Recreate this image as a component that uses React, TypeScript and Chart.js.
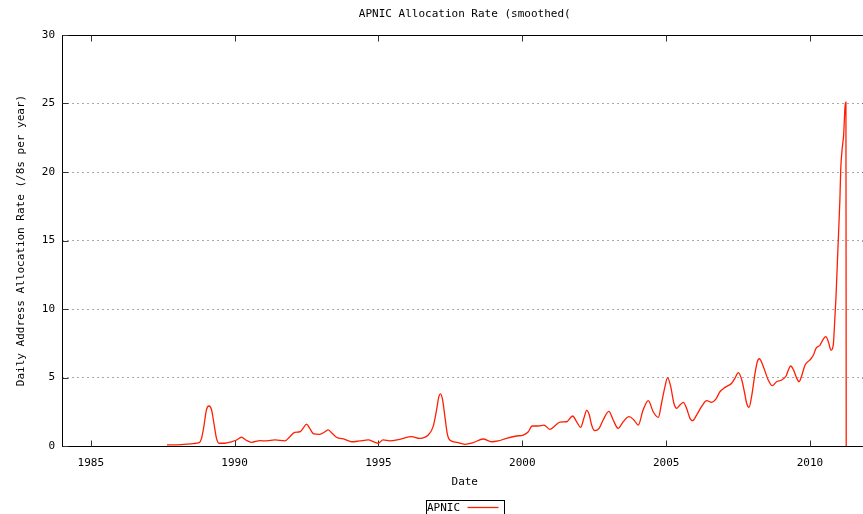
import { useEffect, useRef } from 'react';
import { Chart, registerables } from 'chart.js';

Chart.register(...registerables);

const titleText = 'APNIC Allocation Rate (smoothed(';
const xTitle = 'Date';
const yTitle = 'Daily Address Allocation Rate (/8s per year)';
const seriesLabel = 'APNIC';

const xTicks = [1985, 1990, 1995, 2000, 2005, 2010];
const yTicks = [0, 5, 10, 15, 20, 25, 30];

const dates = [
  1987.65, 1988.15, 1988.56, 1988.77, 1988.85, 1988.93, 1989.02, 1989.11, 1989.2, 1989.28,
  1989.37, 1989.46, 1989.66, 1989.89, 1990.07, 1990.24, 1990.39, 1990.59, 1990.88, 1991.11,
  1991.4, 1991.75, 1991.92, 1992.09, 1992.27, 1992.38, 1992.5, 1992.61, 1992.75, 1992.96,
  1993.14, 1993.25, 1993.37, 1993.54, 1993.83, 1994.07, 1994.35, 1994.64, 1994.88, 1994.99,
  1995.16, 1995.4, 1995.74, 1996.15, 1996.44, 1996.73, 1996.9, 1997.02, 1997.1, 1997.16,
  1997.23, 1997.31, 1997.39, 1997.48, 1997.72, 1998.0, 1998.29, 1998.64, 1998.93, 1999.16,
  1999.45, 1999.8, 2000.03, 2000.21, 2000.34, 2000.55, 2000.75, 2000.96, 2001.13, 2001.31,
  2001.54, 2001.75, 2001.89, 2002.03, 2002.14, 2002.24, 2002.33, 2002.41, 2002.52, 2002.67,
  2002.81, 2003.01, 2003.16, 2003.33, 2003.51, 2003.71, 2003.88, 2004.03, 2004.2, 2004.38,
  2004.55, 2004.73, 2004.84, 2004.96, 2005.05, 2005.16, 2005.27, 2005.37, 2005.48, 2005.6,
  2005.71, 2005.83, 2005.92, 2006.06, 2006.23, 2006.41, 2006.58, 2006.73, 2006.87, 2007.05,
  2007.28, 2007.39, 2007.51, 2007.63, 2007.72, 2007.8, 2007.88, 2007.97, 2008.09, 2008.17,
  2008.24, 2008.38, 2008.55, 2008.69, 2008.84, 2009.02, 2009.17, 2009.25, 2009.33, 2009.44,
  2009.54, 2009.62, 2009.71, 2009.83, 2010.0, 2010.12, 2010.21, 2010.35, 2010.46, 2010.55,
  2010.64, 2010.73, 2010.81, 2010.85, 2010.88, 2010.9, 2010.97, 2011.04, 2011.07, 2011.12,
  2011.17, 2011.22, 2011.25, 2011.26,
];

const rates = [
  0.08, 0.1, 0.18, 0.24, 0.56, 1.41, 2.63, 2.92, 2.63, 1.66,
  0.56, 0.2, 0.2, 0.31, 0.44, 0.64, 0.44, 0.27, 0.39, 0.37,
  0.44, 0.37, 0.68, 1.0, 1.04, 1.29, 1.6, 1.29, 0.88, 0.85,
  1.04, 1.17, 0.97, 0.64, 0.49, 0.31, 0.37, 0.44, 0.27, 0.2,
  0.44, 0.37, 0.49, 0.68, 0.56, 0.8, 1.41, 2.63, 3.6, 3.8,
  3.36, 2.14, 0.93, 0.44, 0.27, 0.12, 0.24, 0.51, 0.31, 0.37,
  0.56, 0.73, 0.8, 1.04, 1.46, 1.46, 1.53, 1.22, 1.46, 1.75,
  1.77, 2.19, 1.77, 1.36, 2.02, 2.6, 2.26, 1.53, 1.12, 1.29,
  1.9, 2.53, 1.9, 1.29, 1.77, 2.14, 1.9, 1.53, 2.63, 3.31,
  2.5, 2.09, 3.12, 4.33, 4.99, 4.33, 3.12, 2.75, 2.99, 3.19,
  2.75, 2.02, 1.85, 2.26, 2.87, 3.31, 3.19, 3.42, 3.96, 4.28,
  4.58, 4.94, 5.35, 4.82, 3.96, 3.12, 2.82, 3.6, 5.3, 6.15,
  6.37, 5.79, 4.82, 4.4, 4.69, 4.82, 5.11, 5.55, 5.84, 5.5,
  4.94, 4.69, 5.11, 5.91, 6.28, 6.64, 7.13, 7.37, 7.79, 7.98,
  7.61, 7.0, 7.37, 8.7, 9.93, 10.66, 14.3, 17.96, 20.2, 21.7,
  22.7, 24.8, 25.1, 0,
];

const FONT = "'DejaVu Sans Mono', monospace";
const RED = 'rgb(255,30,0)';
const CANVAS_W = 920;
const CANVAS_H = 514;

const framePlugin = {
  id: 'gnuFrame',
  beforeDatasetsDraw(chart: any) {
    const { ctx, chartArea } = chart;
    const xs = chart.scales.x;
    const ys = chart.scales.y;
    const l = Math.round(chartArea.left) + 0.5;
    const r = Math.round(chartArea.right) + 0.5;
    const t = Math.round(chartArea.top) + 0.5;
    const b = Math.round(chartArea.bottom) + 0.5;
    ctx.save();
    ctx.strokeStyle = '#000';
    ctx.lineWidth = 1;
    ctx.setLineDash([]);
    ctx.strokeRect(l, t, r - l, b - t);
    ctx.strokeStyle = '#333';
    ctx.beginPath();
    xTicks.forEach((v) => {
      const px = Math.round(xs.getPixelForValue(v)) + 0.5;
      ctx.moveTo(px, b);
      ctx.lineTo(px, b - 6);
      ctx.moveTo(px, t);
      ctx.lineTo(px, t + 6);
    });
    yTicks.forEach((v) => {
      const py = Math.round(ys.getPixelForValue(v)) + 0.5;
      ctx.moveTo(l, py);
      ctx.lineTo(l + 6, py);
      ctx.moveTo(r, py);
      ctx.lineTo(r - 6, py);
    });
    ctx.stroke();
    ctx.restore();
  },
  afterDraw(chart: any) {
    const { ctx, chartArea } = chart;
    const cx = (chartArea.left + chartArea.right) / 2;
    const w = 78;
    const lx = Math.round(cx - w / 2) + 0.5;
    const ty = 500.5;
    ctx.save();
    ctx.strokeStyle = '#000';
    ctx.lineWidth = 1;
    ctx.strokeRect(lx, ty, w, 24);
    ctx.fillStyle = '#000';
    ctx.font = `11px ${FONT}`;
    ctx.textAlign = 'left';
    ctx.textBaseline = 'middle';
    ctx.fillText(seriesLabel, lx + 0.5, 508);
    ctx.strokeStyle = RED;
    ctx.lineWidth = 1.3;
    ctx.beginPath();
    ctx.moveTo(lx + 41, 507.5);
    ctx.lineTo(lx + 72, 507.5);
    ctx.stroke();
    ctx.restore();
  },
};

export default function App() {
  const ref = useRef<HTMLCanvasElement | null>(null);

  useEffect(() => {
    if (!ref.current) return;
    Chart.defaults.font.family = FONT;
    Chart.defaults.font.size = 11;
    Chart.defaults.color = '#000';
    const chart = new Chart(ref.current, {
      type: 'line',
      data: {
        datasets: [
          {
            label: seriesLabel,
            data: dates.map((d, i) => ({ x: d, y: rates[i] })),
            borderColor: RED,
            borderWidth: 1.3,
            pointRadius: 0,
            fill: false,
            cubicInterpolationMode: 'monotone',
            clip: 4,
          } as any,
        ],
      },
      options: {
        animation: false,
        responsive: false,
        devicePixelRatio: 1,
        layout: { padding: { left: 0, right: CANVAS_W - 867.5, top: 0, bottom: 22 } },
        plugins: {
          legend: { display: false },
          tooltip: { enabled: false },
          title: {
            display: true,
            fullSize: false,
            text: titleText,
            font: { family: FONT, size: 11, weight: 'normal' },
            color: '#000',
            padding: { top: 8, bottom: 35 - 8 - 13.2 },
          },
        },
        scales: {
          x: {
            type: 'linear',
            min: 1984,
            max: 2012,
            afterBuildTicks: (s: any) => {
              s.ticks = xTicks.map((v) => ({ value: v }));
            },
            afterFit: (s: any) => {
              s.height = 46;
            },
            ticks: {
              padding: 10.5,
              autoSkip: false,
              maxRotation: 0,
              callback: (v: any) => String(v),
              font: { family: FONT, size: 11 },
              color: '#000',
            },
            grid: { display: false, drawTicks: false },
            border: { display: false },
            title: {
              display: true,
              text: xTitle,
              font: { family: FONT, size: 11 },
              color: '#000',
              padding: { top: 0, bottom: 3 },
            },
          },
          y: {
            type: 'linear',
            min: 0,
            max: 30,
            afterBuildTicks: (s: any) => {
              s.ticks = yTicks.map((v) => ({ value: v }));
            },
            afterFit: (s: any) => {
              s.width = 62;
            },
            ticks: {
              padding: 7,
              callback: (v: any) => String(v),
              font: { family: FONT, size: 11 },
              color: '#000',
            },
            grid: {
              drawTicks: false,
              lineWidth: 1,
              color: (c: any) =>
                c.tick && (c.tick.value === 0 || c.tick.value === 30)
                  ? 'rgba(0,0,0,0)'
                  : '#a8a8a8',
            },
            border: { display: false, dash: [2, 3] },
            title: {
              display: true,
              text: yTitle,
              font: { family: FONT, size: 11 },
              color: '#000',
              padding: { top: 15, bottom: 0 },
            },
          },
        },
      },
      plugins: [framePlugin],
    });
    return () => chart.destroy();
  }, []);

  return (
    <div
      style={{
        position: 'fixed',
        left: 0,
        top: 0,
        width: 863,
        height: 514,
        overflow: 'hidden',
        background: '#fff',
      }}
    >
      <canvas
        ref={ref}
        width={CANVAS_W}
        height={CANVAS_H}
        style={{ width: CANVAS_W, height: CANVAS_H, display: 'block' }}
      />
    </div>
  );
}
